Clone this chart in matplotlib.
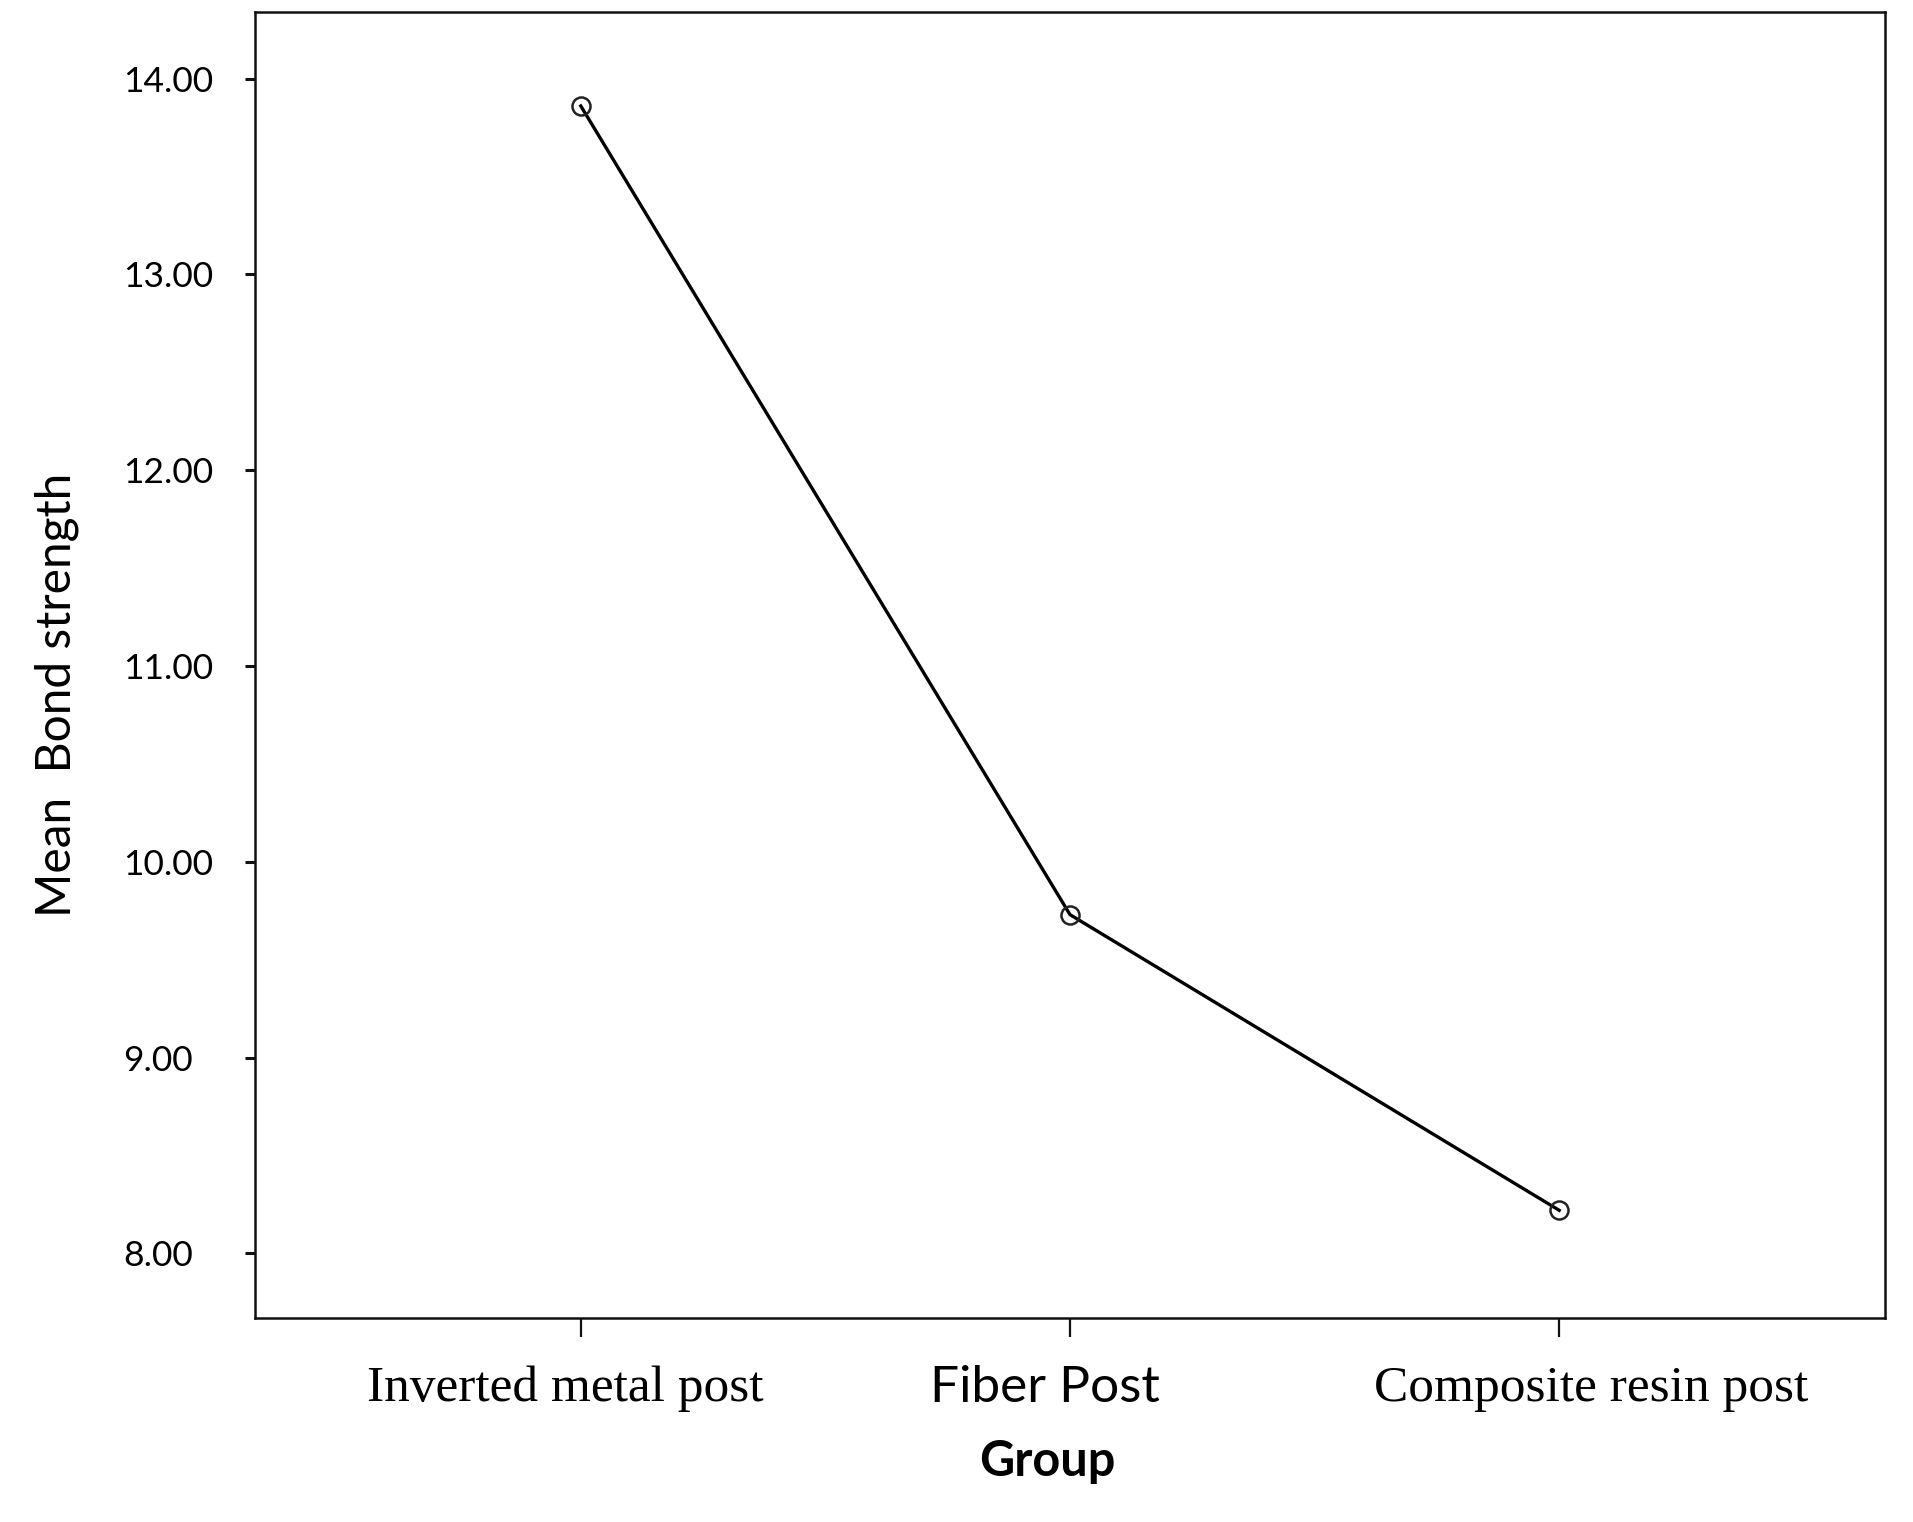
import matplotlib
matplotlib.use('Agg')
import matplotlib.pyplot as plt
from matplotlib.transforms import ScaledTranslation

groups = ['Inverted metal post', 'Fiber Post', 'Composite resin post']
label_fonts = ['Liberation Serif', 'Lato', 'Liberation Serif']
label_sizes = [37, 37, 37]
label_shift = [-16, -25, 32]   # px, horizontal nudge of each tick label
mean_bond = [13.86, 9.73, 8.22]
yticks = [8, 9, 10, 11, 12, 13, 14]

fig = plt.figure(figsize=(19.13, 15.22), dpi=100)
ax = fig.add_axes([255 / 1913, 1 - 1318 / 1522, (1885 - 255) / 1913, (1318 - 12) / 1522])

x = list(range(len(groups)))
ax.plot(x, mean_bond, color='black', lw=2.4, marker='o', ms=13,
        mfc='none', mec='#222222', mew=1.8, zorder=3)

ax.set_xlim(-0.666, 2.666)
ax.set_ylim(7.67, 14.34)

for s in ax.spines.values():
    s.set_linewidth(1.8)
    s.set_color('#111111')

ax.set_yticks(yticks)
ax.set_yticklabels(['%.2f' % v for v in yticks], fontfamily='Lato', fontsize=25.5)
ax.tick_params(axis='y', length=7, width=2.2, pad=88, color='#111111')
for lbl in ax.get_yticklabels():
    lbl.set_ha('left')

ax.set_xticks(x)
ax.set_xticklabels(groups)
ax.tick_params(axis='x', length=14, width=1.6, pad=20, color='#111111')
for lbl, fam, sz, dx in zip(ax.get_xticklabels(), label_fonts, label_sizes, label_shift):
    lbl.set_fontfamily(fam)
    lbl.set_fontsize(sz)
    lbl.set_transform(lbl.get_transform() + ScaledTranslation(dx / 100, 0, fig.dpi_scale_trans))

fig.text(1047 / 1913, 1 - 1462 / 1522, 'Group', fontfamily='Lato', fontweight='bold',
         fontsize=35, ha='center', va='center')
fig.text(57 / 1913, 1 - 695 / 1522, 'Mean  Bond strength', fontfamily='Lato',
         fontsize=34.5, rotation=90, ha='center', va='center')

fig.savefig('out.png', dpi=100, facecolor='white')
